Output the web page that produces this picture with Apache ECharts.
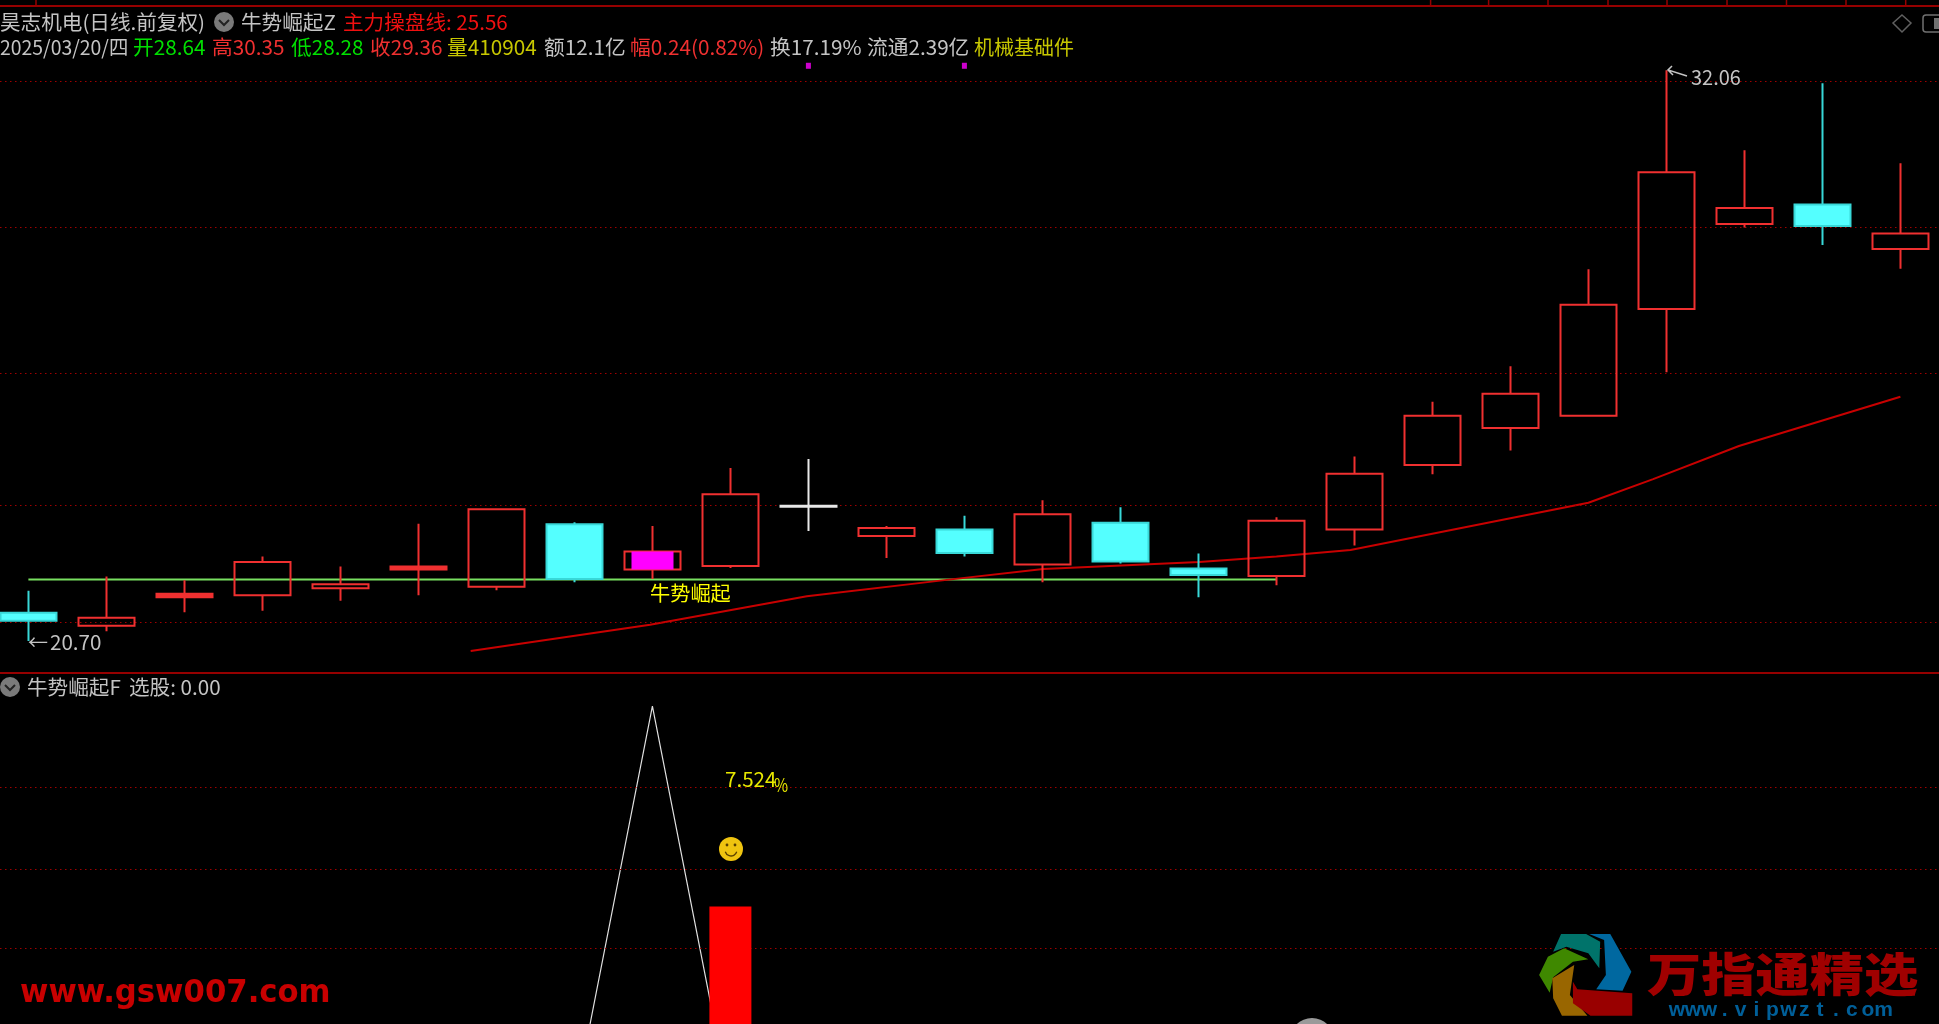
<!DOCTYPE html>
<html><head><meta charset="utf-8"><style>html,body{margin:0;padding:0;background:#000;overflow:hidden}#c{width:1939px;height:1024px}</style>
<script src="https://cdn.jsdelivr.net/npm/echarts@6/dist/echarts.min.js"></script></head>
<body><div id="c"></div><script>
// ---- data ----
const categories = Array.from({length:25},(_,i)=>'K'+(i+1));
const opens  = [21.26,21.00,21.57,21.61,21.75,22.12,21.78,23.02,22.12,22.19,23.37,22.79,22.92,22.22,23.05,22.14,21.99,22.92,24.20,24.94,25.18,27.31,29.00,29.39,28.50];
const closes = [21.10,21.16,21.64,22.27,21.83,22.18,23.32,21.93,22.48,23.62,23.39,22.95,22.45,23.22,22.28,22.01,23.09,24.03,25.18,25.62,27.39,30.03,29.32,28.96,28.81];
const lows   = [20.70,20.89,21.27,21.30,21.50,21.61,21.71,21.87,21.93,22.15,22.89,22.35,22.38,21.87,22.24,21.57,21.81,22.60,24.02,24.49,25.18,26.05,28.93,28.58,28.11];
const highs  = [21.70,21.98,21.91,22.38,22.18,23.03,23.32,23.06,22.99,24.14,24.32,22.99,23.19,23.50,23.36,22.44,23.16,24.37,25.46,26.17,28.10,32.06,30.47,31.80,30.21];
const kinds  = ['down','hollow','solid','hollow','hollow','solid','hollow','down','hollow','hollow','white','hollow','down','hollow','down','down','hollow','hollow','hollow','hollow','hollow','hollow','hollow','down','hollow'];
const magentaCandle = [22.12,22.48];
const signalLevel = 21.92;
const maX = [5.67,7.97,9.98,11.69,13.01,15.01,16.0,16.95,20.0,20.83,21.93,24.0];
const maY = [20.50,21.02,21.59,21.90,22.13,22.27,22.38,22.51,23.45,23.92,24.58,25.56];
const priceGrid = [31.85,28.93,26.02,23.41,21.08];
const subGrid = [7.97,5.91,3.92];
const triangle = {7:0,8:10,9:0};
const redBar = {9:4.96};
const dots = [10,12];
const dotLevel = 32.15;
const headerRow1 = ['昊志机电(日线.前复权)','牛势崛起Z','主力操盘线: 25.56'];
const headerRow2 = ['2025/03/20/四','开28.64','高30.35','低28.28','收29.36','量410904','额12.1亿','幅0.24(0.82%)','换17.19%','流通2.39亿','机械基础件'];
const subHeader = ['牛势崛起F','选股: 0.00'];
// ---- styles ----
const RED='#f03030',CYAN='#54ffff',WHITE='#e8e8e8',GRAY='#c4c4c4',GRID='#a00000';
const FAM='"Noto Sans CJK SC"';
const row2X=[0,133,212,291,370,447,544,630,770,867,974];
const row2S=[0.97,1.035,1.035,1.035,1.035,1.035,1.035,1.035,1.035,1.035,1.0];
const row2C=[GRAY,'#00e000',RED,'#00e000',RED,'#c8c800',GRAY,RED,GRAY,GRAY,'#c8c800'];
const PRICE_MIN=20.061,PRICE_MAX=33.34,SUB_MIN=2.01,SUB_MAX=10.83;
function styleOf(k){
  if(k==='hollow')return{color:'transparent',color0:'transparent',borderColor:RED,borderColor0:RED,borderColorDoji:RED,borderWidth:2};
  if(k==='solid')return{color:RED,color0:RED,borderColor:RED,borderColor0:RED,borderColorDoji:RED,borderWidth:2};
  if(k==='down')return{color:CYAN,color0:CYAN,borderColor:'#38d8d8',borderColor0:'#38d8d8',borderColorDoji:CYAN,borderWidth:2};
  return{color:WHITE,color0:WHITE,borderColor:WHITE,borderColor0:WHITE,borderColorDoji:WHITE,borderWidth:2};
}
const candle=categories.map((_,i)=>({value:[opens[i],closes[i],lows[i],highs[i]],itemStyle:styleOf(kinds[i])}));
const magenta=categories.map((_,i)=>i===8?[magentaCandle[0],magentaCandle[1],magentaCandle[0],magentaCandle[1]]:'-');
const gridMark=v=>({silent:true,symbol:'none',animation:false,label:{show:false},
  lineStyle:{color:GRID,type:[1.5,3.5],width:1},data:v.map(y=>({yAxis:y}))});
function T(x,y,text,fill,size,extra){
  const e=Object.assign({},extra||{});const font=e.font||(size+'px '+FAM);const align=e.align||'left';
  const el={type:'text',x:x,y:y,silent:true,z:50,style:{text:text,fill:fill,font:font,textAlign:align,textVerticalAlign:'middle'}};
  if(e.sx)el.scaleX=e.sx;if(e.sy)el.scaleY=e.sy;return el;
}
function chevron(cx,cy){return[
 {type:'circle',shape:{cx:cx,cy:cy,r:10},style:{fill:'#7a7a7a'},silent:true,z:50},
 {type:'polyline',shape:{points:[[cx-5,cy-2],[cx,cy+3],[cx+5,cy-2]]},style:{stroke:'#222',lineWidth:2,fill:null},silent:true,z:51}];}
const gfx=[];
[[6],[673]].forEach(a=>gfx.push({type:'line',shape:{x1:0,y1:a[0],x2:1939,y2:a[0]},style:{stroke:'#960000',lineWidth:2},silent:true,z:40}));
[36,1430.6,1488.6,1548,1608,1667,1727,1786.5,1846,1905.7].forEach(x=>gfx.push({type:'line',shape:{x1:x,y1:0,x2:x,y2:6},style:{stroke:'#960000',lineWidth:1.5},silent:true,z:40}));
const HS={sx:1.03};
gfx.push(T(0,22,headerRow1[0],GRAY,20,HS));gfx.push(...chevron(224,22));
gfx.push(T(241,22,headerRow1[1],GRAY,20,HS));gfx.push(T(343,22,headerRow1[2],'#f01010',20,HS));
headerRow2.forEach((s,i)=>gfx.push(T(row2X[i],47,s,row2C[i],20,{sx:row2S[i]})));
gfx.push(...chevron(10,687));
gfx.push(T(27,687,subHeader[0],GRAY,20,HS));gfx.push(T(129,687,subHeader[1],GRAY,20,HS));
gfx.push(T(28,642,'←',GRAY,20));
gfx.push(T(50,642,'20.70',GRAY,20,{sx:1.03}));
gfx.push({type:'polyline',shape:{points:[[1687,76],[1668,70],[1672,66],[1668,70],[1673,75]]},style:{stroke:GRAY,lineWidth:1.5,fill:null},silent:true,z:50});
gfx.push(T(1691,77,'32.06',GRAY,20));
gfx.push(T(650,593,'牛势崛起','#ffff00',20,{sx:1.01}));
gfx.push(T(725,779,'7.524','#e8e800',20,{sx:1.03}));
gfx.push(T(774,785,'%','#e8e800',18,{sx:0.85}));
gfx.push({type:'circle',shape:{cx:731,cy:849,r:12},style:{fill:'#efc410'},silent:true,z:50});
gfx.push({type:'circle',shape:{cx:727,cy:845,r:1.4},style:{fill:'#5a4000'},silent:true,z:51});
gfx.push({type:'circle',shape:{cx:735,cy:845,r:1.4},style:{fill:'#5a4000'},silent:true,z:51});
gfx.push({type:'arc',shape:{cx:731,cy:850,r:6,startAngle:0.3,endAngle:2.84},style:{stroke:'#5a4000',lineWidth:1.3,fill:null},silent:true,z:51});
gfx.push({type:'polygon',shape:{points:[[1902,15],[1911,23],[1902,32],[1893,23]]},style:{stroke:'#606060',lineWidth:1.5,fill:null},silent:true,z:50});
gfx.push({type:'rect',shape:{x:1923,y:15,width:24,height:17,r:3},style:{stroke:'#707070',lineWidth:1.5,fill:null},silent:true,z:50});
gfx.push({type:'rect',shape:{x:1934,y:18,width:6,height:11},style:{fill:'#707070'},silent:true,z:50});
gfx.push(T(20,994,'www.gsw007.com','#c80000',32,{font:'bold 32px "DejaVu Sans"',sx:0.96}));
const LX=x=>x/2.276+1250,LY=y=>y/3+900;
const logo=[
 ['#00736a',[[690,155],[708,102],[765,102],[797,125],[795,205],[770,160],[720,140]]],
 ['#0068a0',[[772,102],[820,102],[868,215],[848,272],[788,268],[810,225],[806,120]]],
 ['#3f8800',[[715,145],[770,178],[735,185],[690,232],[682,278],[658,225],[678,170]]],
 ['#996600',[[738,195],[728,285],[768,347],[710,347],[690,295],[688,235]]],
 ['#990000',[[735,245],[745,268],[870,280],[870,347],[775,347],[735,310]]]];
logo.forEach(l=>gfx.push({type:'polygon',shape:{points:l[1].map(p=>[LX(p[0]),LY(p[1])])},style:{fill:l[0]},silent:true,z:50}));
gfx.push(T(1647,974,'万指通精选','#a00000',46,{font:'900 46px '+FAM,sx:1.18}));
'www.vipwzt.com'.split('').forEach((ch,i)=>gfx.push(T(1677+i*15.9,1010,ch,'#005f99',20,{font:'bold 21px "Liberation Sans"',align:'center'})));
gfx.push({type:'circle',shape:{cx:1312,cy:1040,r:22},style:{fill:'#9a9a9a'},silent:true,z:50});

const G0={left:28.4,width:1872,top:6,height:667},G1={left:28.4,width:1872,top:673,height:351};
const FULL0={left:0,width:1939,top:6,height:667},FULL1={left:0,width:1939,top:673,height:351};
const chart=echarts.init(document.getElementById('c'),null,{renderer:'canvas'});
chart.setOption({
 animation:false,backgroundColor:'#000',
 grid:[G0,G1,FULL0,FULL1],
 xAxis:[
  {type:'category',gridIndex:0,data:categories,show:false,boundaryGap:false},
  {type:'category',gridIndex:1,data:categories,show:false,boundaryGap:false},
  {type:'value',gridIndex:0,min:0,max:24,show:false,splitLine:{show:false}},
  {type:'value',gridIndex:2,min:0,max:1,show:false,splitLine:{show:false}},
  {type:'value',gridIndex:3,min:0,max:1,show:false,splitLine:{show:false}}],
 yAxis:[
  {type:'value',gridIndex:0,min:PRICE_MIN,max:PRICE_MAX,show:false,splitLine:{show:false}},
  {type:'value',gridIndex:1,min:SUB_MIN,max:SUB_MAX,show:false,splitLine:{show:false}},
  {type:'value',gridIndex:2,min:PRICE_MIN,max:PRICE_MAX,show:false,splitLine:{show:false}},
  {type:'value',gridIndex:3,min:SUB_MIN,max:SUB_MAX,show:false,splitLine:{show:false}}],
 series:[
  {type:'line',name:'grid0',xAxisIndex:3,yAxisIndex:2,data:[],z:1,markLine:gridMark(priceGrid)},
  {type:'line',name:'grid1',xAxisIndex:4,yAxisIndex:3,data:[],z:1,markLine:gridMark(subGrid)},
  {type:'line',name:'signal',xAxisIndex:0,yAxisIndex:0,data:categories.map((_,i)=>i<=16?signalLevel:null),symbol:'none',
   lineStyle:{color:'#78e060',width:2},z:3},
  {type:'line',name:'ma',xAxisIndex:2,yAxisIndex:0,data:maX.map((x,i)=>[x,maY[i]]),symbol:'none',lineStyle:{color:'#c80000',width:2},z:4},
  {type:'candlestick',name:'k',xAxisIndex:0,yAxisIndex:0,data:candle,barWidth:57,clip:false,z:5},
  {type:'candlestick',name:'m',xAxisIndex:0,yAxisIndex:0,data:magenta,barWidth:42,clip:false,z:6,
   itemStyle:{color:'#ff00ff',color0:'#ff00ff',borderColor:'#ff00ff',borderColor0:'#ff00ff',borderWidth:0}},
  {type:'scatter',name:'dots',xAxisIndex:0,yAxisIndex:0,data:dots.map(i=>[i,dotLevel]),symbol:'rect',symbolSize:[5,6],itemStyle:{color:'#ff00ff'},z:7},
  {type:'line',name:'tri',xAxisIndex:1,yAxisIndex:1,data:categories.map((_,i)=>i in triangle?triangle[i]:null),symbol:'none',
   lineStyle:{color:'#e0e0e0',width:1.2},z:3},
  {type:'bar',name:'bar',xAxisIndex:1,yAxisIndex:1,data:categories.map((_,i)=>i in redBar?redBar[i]:null),barWidth:42,itemStyle:{color:'#ff0000'},z:5}
 ],
 graphic:gfx
});
</script></body></html>
